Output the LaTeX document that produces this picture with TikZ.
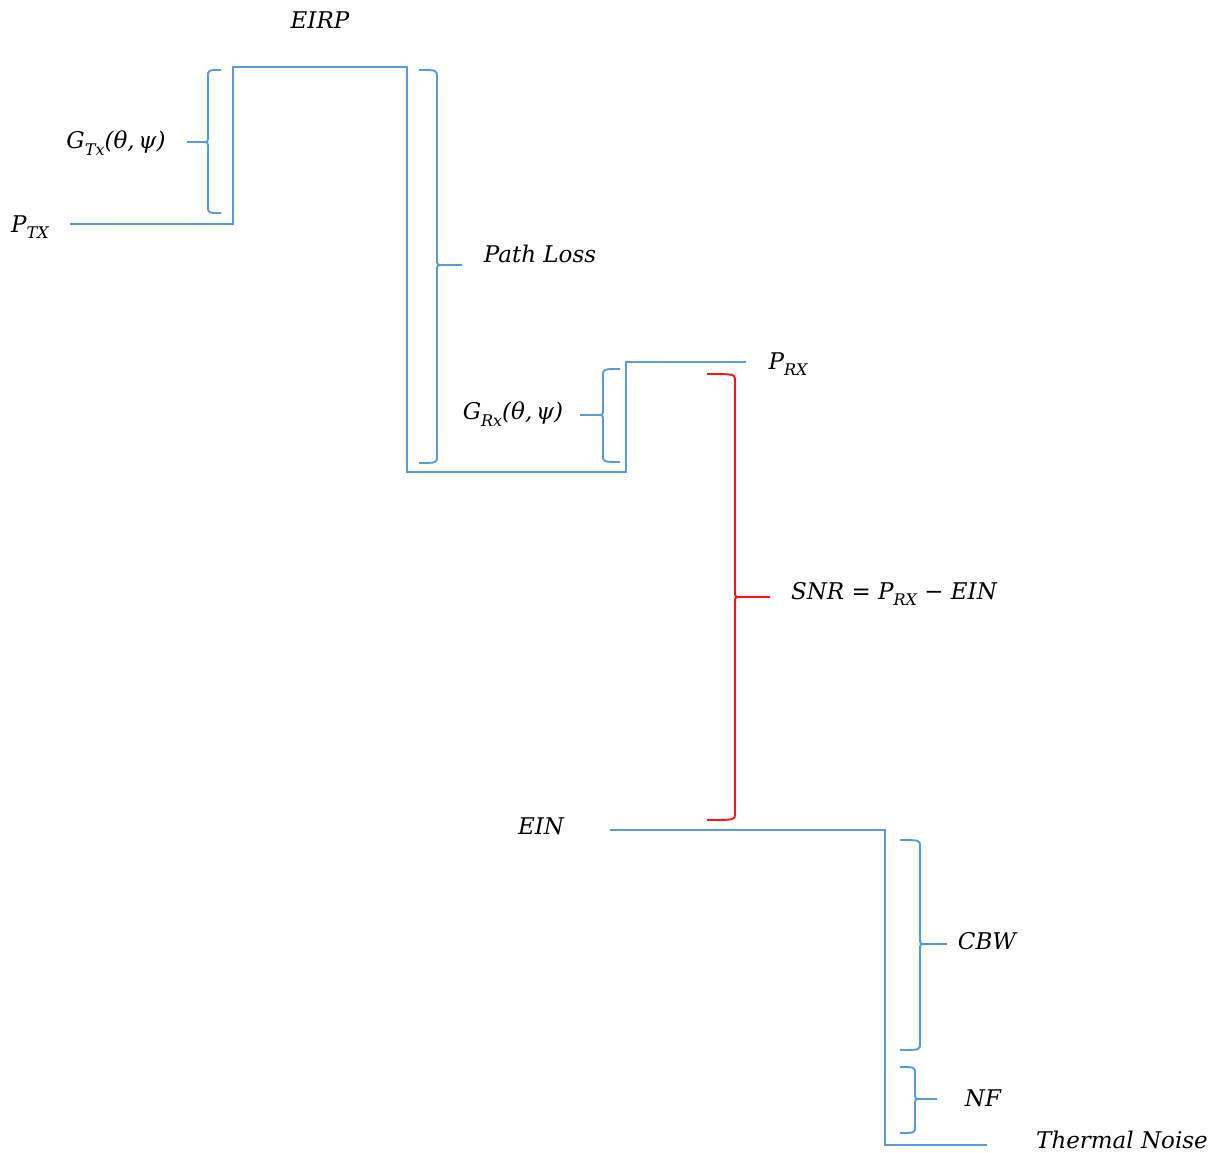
\documentclass[tikz,border=0pt]{standalone}
\usepackage{fontspec}
\setmainfont{DejaVu Serif}
\definecolor{lblue}{RGB}{91,155,213}
\definecolor{lred}{RGB}{255,20,20}
\newcommand\sbs[1]{\raisebox{-0.28em}{\fontsize{16}{16}\selectfont #1}}
% color, spine x, top y, bottom y, mid y, end x, tip x, dir (+1 right, -1 left)
\newcommand\mybrace[8]{%
  \draw[#1,line width=1.9pt]
    (#6,#3) .. controls (#2,#3) .. (#2,{#3+7}) -- (#2,{#5-6})
    .. controls (#2,#5) .. ({#2+6*#8},#5) -- (#7,#5);
  \draw[#1,line width=1.9pt]
    ({#2+6*#8},#5) .. controls (#2,#5) .. (#2,{#5+6}) -- (#2,{#4-7})
    .. controls (#2,#4) .. (#6,#4);
}
\begin{document}
\begin{tikzpicture}[x=1pt,y=-1pt,
  lbl/.style={inner sep=0pt,font=\fontsize{23}{27}\selectfont\itshape},
  bline/.style={lblue,line width=1.9pt}]
\useasboundingbox (0,0) rectangle (1220,1152);
% labels
\node[lbl] (eirp) at (320,20) {EIRP};
\node[lbl] (gtx) at (116,143) {G\sbs{Tx}(θ,\,ψ)};
\node[lbl] (ptx) at (30,227) {P\sbs{TX}};
\node[lbl] (pl) at (540,254) {Path Loss};
\node[lbl] (prx) at (788,364) {P\sbs{RX}};
\node[lbl] (grx) at (513,414) {G\sbs{Rx}(θ,\,ψ)};
\node[lbl] (snr) at (894,594) {SNR = P\sbs{RX} − EIN};
\node[lbl] (ein) at (541,826) {EIN};
\node[lbl] (cbw) at (987,941) {CBW};
\node[lbl] (nf) at (983,1098) {NF};
\node[lbl] (tn) at (1122,1140) {Thermal Noise};
% level line path (transmit to receive)
\coordinate (t0) at (70,224);
\coordinate (t1) at (233,224);
\coordinate (t2) at (233,67);
\coordinate (t3) at (407,67);
\coordinate (t4) at (407,472);
\coordinate (t5) at (626,472);
\coordinate (t6) at (626,362);
\coordinate (t7) at (746,362);
\draw[bline] (t0) -- (t1) -- (t2) -- (t3) -- (t4) -- (t5) -- (t6) -- (t7);
% noise path
\coordinate (n0) at (610,830);
\coordinate (n1) at (885,830);
\coordinate (n2) at (885,1145);
\coordinate (n3) at (987,1145);
\draw[bline] (n0) -- (n1) -- (n2) -- (n3);
% braces
\mybrace{lblue}{208}{70}{213}{142}{221}{187}{-1}
\mybrace{lblue}{437}{70}{463}{265}{419}{462}{1}
\mybrace{lblue}{603}{369}{462}{415}{620}{580}{-1}
\mybrace{lred}{735}{374}{820}{597}{707}{770}{1}
\mybrace{lblue}{920}{840}{1050}{944}{900}{947}{1}
\mybrace{lblue}{915}{1067}{1133}{1099}{900}{937}{1}
\end{tikzpicture}
\end{document}
